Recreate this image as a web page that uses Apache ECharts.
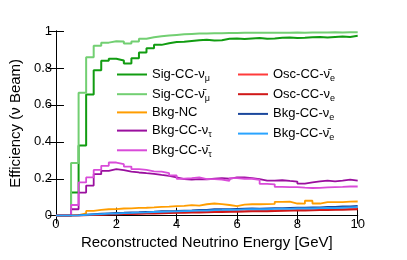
<!DOCTYPE html>
<html>
<head>
<meta charset="utf-8">
<script src="https://cdn.jsdelivr.net/npm/echarts@6/dist/echarts.min.js"></script>
<style>
html,body{margin:0;padding:0;background:#fff;}
#c{width:407px;height:260px;}
</style>
</head>
<body>
<div id="c"></div>
<script>
// 40 bins of 0.25 GeV from 0 to 10 GeV
var binWidth = 0.25;
var xTicks = ['0','2','4','6','8','10'];
var yTicks = ['0','0.2','0.4','0.6','0.8','1'];

var sigNumu = [0,0,0.125,0.38,0.656,0.787,0.839,0.85,0.84,0.824,0.852,0.883,0.907,0.925,0.934,0.94,0.942,0.946,0.95,0.952,
  0.949,0.95,0.958,0.96,0.957,0.96,0.962,0.958,0.96,0.963,0.965,0.962,0.963,0.966,0.967,0.965,0.968,0.97,0.968,0.974];
var sigNumubar = [0,0,0.285,0.665,0.858,0.92,0.937,0.944,0.943,0.932,0.943,0.958,0.966,0.972,0.976,0.979,0.982,0.984,0.986,0.987,
  0.988,0.988,0.989,0.989,0.99,0.99,0.99,0.991,0.99,0.991,0.991,0.992,0.991,0.992,0.992,0.992,0.993,0.992,0.993,0.993];
var bkgNC = [0,0,0.003,0.013,0.026,0.031,0.035,0.036,0.039,0.04,0.042,0.043,0.045,0.048,0.049,0.052,0.053,0.057,0.054,0.062,
  0.066,0.063,0.058,0.052,0.06,0.062,0.062,0.063,0.064,0.075,0.076,0.066,0.065,0.081,0.066,0.074,0.073,0.074,0.076,0.077];
var bkgNutau = [0,0,0.035,0.125,0.163,0.225,0.243,0.252,0.247,0.239,0.234,0.23,0.227,0.221,0.216,0.207,0.198,0.195,0.198,0.197,
  0.2,0.203,0.2,0.208,0.207,0.203,0.198,0.19,0.19,0.192,0.188,0.185,0.174,0.18,0.186,0.19,0.186,0.19,0.195,0.19];
var bkgNutaubar = [0,0,0.058,0.18,0.207,0.248,0.27,0.288,0.279,0.266,0.252,0.248,0.24,0.239,0.23,0.218,0.2,0.203,0.207,0.198,
  0.198,0.196,0.189,0.203,0.2,0.2,0.194,0.172,0.17,0.156,0.155,0.155,0.152,0.15,0.151,0.153,0.155,0.156,0.158,0.158];
var oscNuebar = [0,0,0.001,0.003,0.005,0.007,0.008,0.009,0.011,0.012,0.013,0.014,0.015,0.016,0.017,0.018,0.019,0.02,0.021,0.022,
  0.023,0.024,0.024,0.026,0.025,0.027,0.028,0.027,0.029,0.03,0.029,0.031,0.032,0.031,0.033,0.034,0.035,0.036,0.037,0.038];
var oscNue = [0,0,0.001,0.002,0.004,0.005,0.006,0.007,0.008,0.009,0.01,0.011,0.012,0.013,0.014,0.015,0.016,0.017,0.017,0.018,
  0.019,0.02,0.021,0.021,0.022,0.023,0.024,0.024,0.025,0.026,0.027,0.027,0.028,0.029,0.03,0.03,0.031,0.032,0.033,0.034];
var bkgNue = [0,0,0.002,0.006,0.009,0.011,0.013,0.015,0.016,0.018,0.019,0.021,0.022,0.024,0.025,0.026,0.028,0.029,0.031,0.032,
  0.035,0.036,0.035,0.037,0.038,0.039,0.038,0.04,0.041,0.041,0.042,0.043,0.044,0.045,0.045,0.047,0.048,0.05,0.051,0.053];
var bkgNuebar = [0,0,0.001,0.004,0.007,0.009,0.011,0.012,0.014,0.015,0.017,0.018,0.02,0.021,0.022,0.023,0.025,0.026,0.027,0.028,
  0.03,0.031,0.033,0.032,0.034,0.035,0.036,0.035,0.037,0.038,0.037,0.039,0.04,0.039,0.041,0.042,0.041,0.043,0.045,0.046];

var seriesDefs = [
  {name:'Sig-CC-numu', label:'{m|Sig-CC-ν}{s|μ}', data:sigNumu, color:'#119c11', w:2},
  {name:'Sig-CC-numubar', label:'{m|Sig-CC-ν\u0304}{s|μ}', data:sigNumubar, color:'#72cf72', w:2},
  {name:'Bkg-NC', label:'{m|Bkg-NC}', data:bkgNC, color:'#ff9d00', w:1.8},
  {name:'Bkg-CC-nutau', label:'{m|Bkg-CC-ν}{s|τ}', data:bkgNutau, color:'#9a0f9e', w:1.8},
  {name:'Bkg-CC-nutaubar', label:'{m|Bkg-CC-ν\u0304}{s|τ}', data:bkgNutaubar, color:'#d94bd9', w:1.8},
  {name:'Osc-CC-nuebar', label:'{m|Osc-CC-ν\u0304}{s|e}', data:oscNuebar, color:'#ff3b3b', w:1.8},
  {name:'Osc-CC-nue', label:'{m|Osc-CC-ν}{s|e}', data:oscNue, color:'#d01818', w:1.8},
  {name:'Bkg-CC-nue', label:'{m|Bkg-CC-ν}{s|e}', data:bkgNue, color:'#1a479c', w:1.8},
  {name:'Bkg-CC-nuebar', label:'{m|Bkg-CC-ν\u0304}{s|e}', data:bkgNuebar, color:'#2aa4ff', w:1.8}
];

function toSteps(vals){
  var pts = [];
  for (var i=0;i<vals.length;i++) pts.push([i*binWidth, vals[i]]);
  pts.push([vals.length*binWidth, vals[vals.length-1]]);
  return pts;
}
var labelMap = {};
seriesDefs.forEach(function(d){ labelMap[d.name]=d.label; });

var FONT = '"Liberation Sans", Arial, Helvetica, sans-serif';
var rich = {
  m:{fontSize:13, lineHeight:14, fontFamily:FONT, color:'#000'},
  s:{fontSize:9, lineHeight:14, fontFamily:FONT, color:'#000', padding:[8,0,0,0]}
};
function legendCfg(names, left){
  return {
    data:names, orient:'vertical', left:left, top:66,
    itemWidth:30, itemHeight:2, itemGap:2.7, icon:'rect',
    selectedMode:false, padding:0,
    formatter:function(n){ return labelMap[n]; },
    textStyle:{rich:rich, fontSize:13, lineHeight:14, fontFamily:FONT, padding:[0,0,0,0]}
  };
}

var axisCommon = {
  type:'value', min:0,
  axisLine:{show:true, lineStyle:{color:'#000', width:1}},
  axisTick:{show:true, inside:true, length:8, lineStyle:{color:'#000', width:1}},
  splitLine:{show:false}
};

var chart = echarts.init(document.getElementById('c'), null, {renderer:'canvas'});
chart.setOption({
  animation:false,
  backgroundColor:'#fff',
  grid:{left:48.7, right:49.3, top:31, bottom:44.3, show:false},
  legend:[
    legendCfg(seriesDefs.slice(0,5).map(function(d){return d.name;}), 117),
    legendCfg(seriesDefs.slice(5).map(function(d){return d.name;}), 238)
  ],
  xAxis:[
    Object.assign({}, axisCommon, {max:10, interval:2, position:'bottom',
      name:'Reconstructed Neutrino Energy [GeV]', nameLocation:'middle', nameGap:12,
      nameTextStyle:{fontSize:15, fontFamily:FONT, color:'#000'},
      axisLabel:{margin:2, fontSize:13, fontFamily:FONT, color:'#000',
        formatter:function(v){ return xTicks[Math.round(v/2)]; }}}),
    Object.assign({}, axisCommon, {max:10, interval:2, position:'top', axisLabel:{show:false}})
  ],
  yAxis:[
    Object.assign({}, axisCommon, {max:1, interval:0.2, position:'left',
      name:'Efficiency (ν Beam)', nameLocation:'middle', nameGap:30, nameRotate:90,
      nameTextStyle:{fontSize:15, fontFamily:FONT, color:'#000'},
      axisLabel:{margin:4, fontSize:13, fontFamily:FONT, color:'#000',
        formatter:function(v){ return yTicks[Math.round(v/0.2)]; }}}),
    Object.assign({}, axisCommon, {max:1, interval:0.2, position:'right', axisLabel:{show:false}})
  ],
  series: seriesDefs.map(function(d){
    return {
      name:d.name, type:'line', step:'end', data:toSteps(d.data),
      showSymbol:false, symbol:'none', color:d.color,
      lineStyle:{color:d.color, width:d.w}, itemStyle:{color:d.color},
      clip:true, silent:true
    };
  })
});
</script>
</body>
</html>
